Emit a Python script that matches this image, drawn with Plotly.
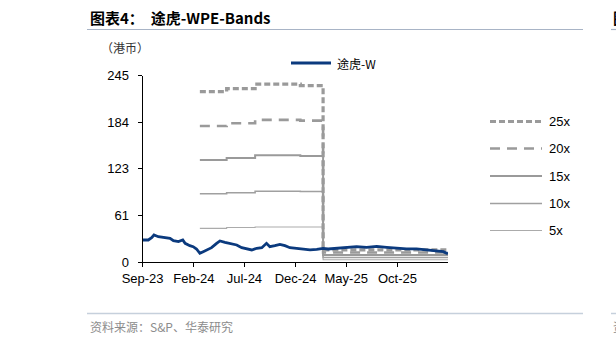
import plotly.graph_objects as go

# ---------------- data ----------------
price_dates = ["2023-09-01","2023-09-18","2023-09-28","2023-10-05","2023-10-18","2023-11-02",
               "2023-11-22","2023-12-02","2023-12-17","2023-12-30","2024-01-06","2024-01-20",
               "2024-01-30","2024-02-09","2024-02-19","2024-02-29","2024-03-10","2024-03-25",
               "2024-04-09","2024-04-19","2024-05-04","2024-05-19","2024-06-08","2024-06-23",
               "2024-07-08","2024-07-23","2024-08-07","2024-08-22","2024-09-05","2024-09-15",
               "2024-09-30","2024-10-15","2024-10-30","2024-11-14","2024-12-04","2024-12-24",
               "2025-01-13","2025-02-02","2025-02-21","2025-03-08","2025-04-02","2025-05-02",
               "2025-06-01","2025-07-01","2025-07-31","2025-08-30","2025-09-28","2025-10-28",
               "2025-11-27","2025-12-27","2026-01-26","2026-02-15","2026-02-25","2026-03-01"]
price_values = [29.3, 29.3, 32.3, 35.8, 33.6, 32.3,
                31.5, 28.4, 27.1, 29.3, 24.9, 21.8,
                20.5, 17.5, 11.8, 13.9, 16.2, 19.2,
                24.9, 28.0, 26.3, 24.9, 22.7, 19.2,
                17.5, 16.2, 18.4, 19.2, 24.9, 20.5,
                21.8, 23.6, 21.8, 19.2, 18.4, 17.1,
                16.2, 17.1, 18.4, 17.5, 18.4, 19.7,
                20.5, 19.7, 21.0, 19.7, 18.4, 17.5,
                17.5, 16.2, 15.2, 13.9, 11.8, 12.0]

band_dates = ["2024-02-19", "2024-05-09", "2024-08-02", "2024-12-15", "2025-02-21", "2026-03-01"]
band_25x = [224.0, 228.0, 234.0, 232.0, 16.2, 16.2]
band_20x = [179.0, 182.5, 187.0, 186.0, 12.8, 12.8]
band_15x = [134.3, 137.0, 140.5, 139.5, 9.5, 9.5]
band_10x = [90.0, 91.4, 93.2, 93.0, 6.4, 6.4]
band_5x = [44.6, 45.7, 46.3, 46.3, 3.3, 3.3]

band_names = ["25x", "20x", "15x", "10x", "5x"]
tick_vals = ["2023-09-01", "2024-02-01", "2024-07-01", "2024-12-01", "2025-05-01", "2025-10-01"]
tick_text = ["Sep-23", "Feb-24", "Jul-24", "Dec-24", "May-25", "Oct-25"]
y_ticks = [0, 61, 123, 184, 245]

# ---------------- styles ----------------
W, H = 616, 344
def px_x(x): return x / W
def px_y(y): return 1 - y / H

band_styles = {
    "25x": dict(color="#9A9A9A", width=3.2, dash="6px,3px"),
    "20x": dict(color="#9A9A9A", width=2.6, dash="10px,7px"),
    "15x": dict(color="#9A9A9A", width=2.0, dash="solid"),
    "10x": dict(color="#A0A0A0", width=1.6, dash="solid"),
    "5x":  dict(color="#ABABAB", width=1.1, dash="solid"),
}
band_data = {"25x": band_25x, "20x": band_20x, "15x": band_15x, "10x": band_10x, "5x": band_5x}
price_color = "#0B3A7E"

fig = go.Figure()
for name in reversed(band_names):
    fig.add_trace(go.Scatter(x=band_dates, y=band_data[name], mode="lines", name=name,
                             line=dict(shape="hv", **band_styles[name]), showlegend=False))
fig.add_trace(go.Scatter(x=price_dates, y=price_values, mode="lines", name="途虎-W",
                         line=dict(color=price_color, width=2.8), showlegend=False))

fig.update_layout(
    width=W, height=H, margin=dict(l=0, r=0, t=0, b=0, autoexpand=False),
    paper_bgcolor="white", plot_bgcolor="white",
    font=dict(family="Liberation Sans, Arial", size=13, color="black"),
    xaxis=dict(domain=[px_x(142.6), px_x(448)], type="date",
               range=["2023-09-01", "2026-03-01"],
               tickvals=tick_vals, ticktext=tick_text, ticks="outside", ticklen=4,
               tickcolor="black", showline=True, linecolor="black", linewidth=1,
               showgrid=False, zeroline=False, tickfont=dict(size=13), automargin=False),
    yaxis=dict(domain=[px_y(262.3), px_y(75.7)], range=[0, 245], tickvals=y_ticks,
               ticks="outside", ticklen=4, tickcolor="black", showline=True,
               linecolor="black", linewidth=1, showgrid=False, zeroline=False,
               tickfont=dict(size=13), ticklabelstandoff=6, automargin=False),
)

shapes = []
annotations = []
# title and underline
annotations.append(dict(x=px_x(88), y=px_y(18), xref="paper", yref="paper", xanchor="left",
                        yanchor="middle", showarrow=False,
                        text="<b>图表4：  途虎-WPE-Bands</b>",
                        font=dict(family="Noto Sans CJK SC", size=15, color="black")))
shapes.append(dict(type="line", xref="paper", yref="paper", x0=px_x(87), x1=px_x(583),
                   y0=px_y(29.5), y1=px_y(29.5), line=dict(color="#A8B4C6", width=1.2)))
# neighbour fragments at right edge
annotations.append(dict(x=px_x(611), y=px_y(18), xref="paper", yref="paper", xanchor="left",
                        yanchor="middle", showarrow=False, text="<b>图</b>",
                        font=dict(family="Noto Sans CJK SC", size=15, color="black")))
shapes.append(dict(type="line", xref="paper", yref="paper", x0=px_x(611), x1=1,
                   y0=px_y(29.5), y1=px_y(29.5), line=dict(color="#A8B4C6", width=1.2)))
# unit label
annotations.append(dict(x=px_x(99), y=px_y(47), xref="paper", yref="paper", xanchor="left",
                        yanchor="middle", showarrow=False, text="（港币）",
                        font=dict(family="Noto Sans CJK SC", size=12, color="#333333")))
# price legend
shapes.append(dict(type="line", xref="paper", yref="paper", x0=px_x(291), x1=px_x(331),
                   y0=px_y(63), y1=px_y(63), line=dict(color=price_color, width=3)))
annotations.append(dict(x=px_x(335), y=px_y(63), xref="paper", yref="paper", xanchor="left",
                        yanchor="middle", showarrow=False, text="途虎-W",
                        font=dict(family="Noto Sans CJK SC", size=12, color="black")))
# band legend
legend_y = {"25x": 121.5, "20x": 148.5, "15x": 176, "10x": 203.5, "5x": 230.5}
for name in band_names:
    st = band_styles[name]
    shapes.append(dict(type="line", xref="paper", yref="paper", x0=px_x(490), x1=px_x(542),
                       y0=px_y(legend_y[name]), y1=px_y(legend_y[name]),
                       line=dict(color=st["color"], width=st["width"], dash=st["dash"])))
    annotations.append(dict(x=px_x(547), y=px_y(legend_y[name]), xref="paper", yref="paper",
                            xanchor="left", yanchor="middle", showarrow=False, text=name,
                            font=dict(family="Liberation Sans, Arial", size=13, color="black")))
# footer
shapes.append(dict(type="line", xref="paper", yref="paper", x0=px_x(87), x1=px_x(583),
                   y0=px_y(313.5), y1=px_y(313.5), line=dict(color="#C6D0DC", width=1.5)))
shapes.append(dict(type="line", xref="paper", yref="paper", x0=px_x(611), x1=1,
                   y0=px_y(313.5), y1=px_y(313.5), line=dict(color="#C6D0DC", width=1.5)))
annotations.append(dict(x=px_x(88), y=px_y(326), xref="paper", yref="paper", xanchor="left",
                        yanchor="middle", showarrow=False, text="资料来源：S&P、华泰研究",
                        font=dict(family="Noto Sans CJK SC", size=12, color="#8C8C8C")))
annotations.append(dict(x=px_x(611), y=px_y(326), xref="paper", yref="paper", xanchor="left",
                        yanchor="middle", showarrow=False, text="资",
                        font=dict(family="Noto Sans CJK SC", size=12, color="#8C8C8C")))

fig.update_layout(shapes=shapes, annotations=annotations)
fig.write_html("out.html")
